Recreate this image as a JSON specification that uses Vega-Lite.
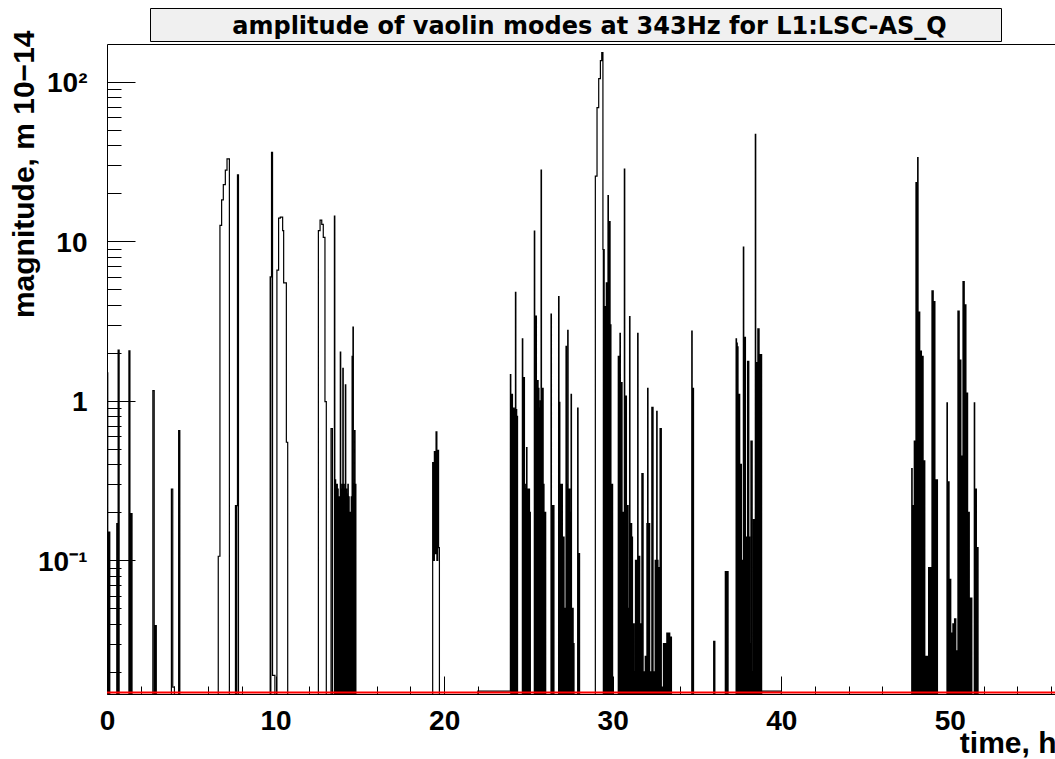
{
  "$schema": "https://vega.github.io/schema/vega-lite/v6.json",
  "autosize": {"type": "pad"},
  "padding": {"left": 8, "top": 7, "right": 0, "bottom": 0},
  "background": "white",
  "spacing": -12,
  "datasets": {
    "title": [{"label": "amplitude of vaolin modes at 343Hz for L1:LSC-AS_Q"}],
    "red": [{"t": 0, "v": 0.01483}, {"t": 56.3, "v": 0.01483}],
    "black": [
      {"t": 0, "v": 0.001},
      {"t": 0.02, "v": 1.5}, {"t": 0.045, "v": 0.001}, {"t": 0.06, "v": 0.15}, {"t": 0.085, "v": 0.001}, {"t": 0.1, "v": 0.15}, {"t": 0.125, "v": 0.001}, {"t": 0.14, "v": 0.15}, {"t": 0.165, "v": 0.001},
      {"t": 0.58, "v": 0.17}, {"t": 0.605, "v": 0.001}, {"t": 0.62, "v": 0.17}, {"t": 0.645, "v": 0.001}, {"t": 0.66, "v": 2.08}, {"t": 0.72, "v": 0.001},
      {"t": 1.3, "v": 2.06}, {"t": 1.36, "v": 0.001}, {"t": 1.38, "v": 0.196}, {"t": 1.405, "v": 0.001}, {"t": 1.42, "v": 0.196}, {"t": 1.445, "v": 0.001}, {"t": 1.46, "v": 0.196}, {"t": 1.485, "v": 0.001},
      {"t": 2.72, "v": 1.16}, {"t": 2.8, "v": 0.001}, {"t": 2.82, "v": 0.039}, {"t": 2.845, "v": 0.001}, {"t": 2.86, "v": 0.039}, {"t": 2.885, "v": 0.001}, {"t": 2.9, "v": 0.039}, {"t": 2.925, "v": 0.001},
      {"t": 3.82, "v": 0.28}, {"t": 3.9, "v": 0.016}, {"t": 4.0, "v": 0.001},
      {"t": 4.25, "v": 0.65}, {"t": 4.32, "v": 0.001},
      {"t": 6.6, "v": 0.106}, {"t": 6.7, "v": 12.6}, {"t": 6.8, "v": 18.2}, {"t": 6.9, "v": 22.7}, {"t": 7.02, "v": 28}, {"t": 7.12, "v": 32.9}, {"t": 7.26, "v": 0.001},
      {"t": 7.62, "v": 0.22}, {"t": 7.645, "v": 0.001}, {"t": 7.66, "v": 0.22}, {"t": 7.685, "v": 0.001}, {"t": 7.7, "v": 0.22}, {"t": 7.74, "v": 26.2}, {"t": 7.8, "v": 0.001},
      {"t": 9.68, "v": 6.0}, {"t": 9.705, "v": 0.001}, {"t": 9.72, "v": 6.0}, {"t": 9.76, "v": 36.2}, {"t": 9.82, "v": 0.019}, {"t": 9.96, "v": 0.001},
      {"t": 10.08, "v": 6.6}, {"t": 10.18, "v": 14.0}, {"t": 10.28, "v": 14.2}, {"t": 10.42, "v": 11.7}, {"t": 10.48, "v": 5.5}, {"t": 10.64, "v": 0.55}, {"t": 10.72, "v": 0.001},
      {"t": 12.54, "v": 11.7}, {"t": 12.64, "v": 13.6}, {"t": 12.74, "v": 12.8}, {"t": 12.83, "v": 10.6}, {"t": 12.93, "v": 0.99}, {"t": 13.01, "v": 0.001},
      {"t": 13.29, "v": 0.67}, {"t": 13.37, "v": 0.001},
      {"t": 13.49, "v": 14.4}, {"t": 13.515, "v": 0.001}, {"t": 13.54, "v": 0.32}, {"t": 13.565, "v": 0.001}, {"t": 13.59, "v": 0.3}, {"t": 13.615, "v": 0.001},
      {"t": 13.64, "v": 0.3}, {"t": 13.665, "v": 0.001}, {"t": 13.69, "v": 0.28}, {"t": 13.715, "v": 0.001}, {"t": 13.74, "v": 0.25}, {"t": 13.765, "v": 0.001},
      {"t": 13.79, "v": 0.25}, {"t": 13.815, "v": 0.001}, {"t": 13.84, "v": 2.02}, {"t": 13.865, "v": 0.001}, {"t": 13.89, "v": 0.28}, {"t": 13.915, "v": 0.001},
      {"t": 13.94, "v": 0.3}, {"t": 13.965, "v": 0.001}, {"t": 13.99, "v": 1.6}, {"t": 14.015, "v": 0.001}, {"t": 14.04, "v": 0.3}, {"t": 14.065, "v": 0.001},
      {"t": 14.09, "v": 0.28}, {"t": 14.115, "v": 0.001}, {"t": 14.14, "v": 1.26}, {"t": 14.165, "v": 0.001}, {"t": 14.19, "v": 0.28}, {"t": 14.215, "v": 0.001},
      {"t": 14.24, "v": 0.26}, {"t": 14.265, "v": 0.001}, {"t": 14.29, "v": 0.3}, {"t": 14.315, "v": 0.001}, {"t": 14.34, "v": 0.25}, {"t": 14.365, "v": 0.001},
      {"t": 14.39, "v": 0.2}, {"t": 14.415, "v": 0.001}, {"t": 14.44, "v": 0.2}, {"t": 14.465, "v": 0.001}, {"t": 14.49, "v": 0.25}, {"t": 14.515, "v": 0.001},
      {"t": 14.54, "v": 1.9}, {"t": 14.565, "v": 0.001}, {"t": 14.59, "v": 2.9}, {"t": 14.615, "v": 0.001}, {"t": 14.64, "v": 0.3}, {"t": 14.665, "v": 0.001},
      {"t": 14.69, "v": 0.65}, {"t": 14.715, "v": 0.001}, {"t": 14.74, "v": 0.3}, {"t": 14.765, "v": 0.001},
      {"t": 19.32, "v": 0.41}, {"t": 19.37, "v": 0.1}, {"t": 19.42, "v": 0.48}, {"t": 19.47, "v": 0.11}, {"t": 19.52, "v": 0.64}, {"t": 19.57, "v": 0.1}, {"t": 19.62, "v": 0.49}, {"t": 19.67, "v": 0.12}, {"t": 19.72, "v": 0.001},
      {"t": 22.0, "v": 0.0151},
      {"t": 23.93, "v": 1.46}, {"t": 23.955, "v": 0.001}, {"t": 23.98, "v": 1.1}, {"t": 24.005, "v": 0.001}, {"t": 24.03, "v": 1.1}, {"t": 24.055, "v": 0.001},
      {"t": 24.08, "v": 0.9}, {"t": 24.105, "v": 0.001}, {"t": 24.13, "v": 0.9}, {"t": 24.155, "v": 0.001}, {"t": 24.18, "v": 0.88}, {"t": 24.205, "v": 0.001},
      {"t": 24.23, "v": 4.8}, {"t": 24.255, "v": 0.001}, {"t": 24.28, "v": 0.88}, {"t": 24.305, "v": 0.001}, {"t": 24.33, "v": 0.8}, {"t": 24.355, "v": 0.001},
      {"t": 24.64, "v": 2.45}, {"t": 24.665, "v": 0.001}, {"t": 24.69, "v": 1.4}, {"t": 24.715, "v": 0.001}, {"t": 24.74, "v": 1.4}, {"t": 24.765, "v": 0.001},
      {"t": 24.79, "v": 0.3}, {"t": 24.815, "v": 0.001}, {"t": 24.84, "v": 0.28}, {"t": 24.865, "v": 0.001}, {"t": 24.89, "v": 0.51}, {"t": 24.915, "v": 0.001},
      {"t": 24.94, "v": 0.28}, {"t": 24.965, "v": 0.001}, {"t": 24.99, "v": 0.28}, {"t": 25.015, "v": 0.001}, {"t": 25.04, "v": 0.28}, {"t": 25.065, "v": 0.001},
      {"t": 25.09, "v": 0.2}, {"t": 25.115, "v": 0.001},
      {"t": 25.35, "v": 11.6}, {"t": 25.375, "v": 0.001}, {"t": 25.4, "v": 3.4}, {"t": 25.425, "v": 0.001}, {"t": 25.45, "v": 3.4}, {"t": 25.475, "v": 0.001},
      {"t": 25.5, "v": 1.34}, {"t": 25.525, "v": 0.001}, {"t": 25.55, "v": 1.34}, {"t": 25.575, "v": 0.001}, {"t": 25.6, "v": 1.2}, {"t": 25.625, "v": 0.001},
      {"t": 25.65, "v": 0.9}, {"t": 25.675, "v": 0.001}, {"t": 25.7, "v": 1.0}, {"t": 25.725, "v": 0.001}, {"t": 25.75, "v": 28}, {"t": 25.775, "v": 0.001},
      {"t": 25.8, "v": 1.2}, {"t": 25.825, "v": 0.001}, {"t": 25.85, "v": 1.2}, {"t": 25.875, "v": 0.001}, {"t": 25.9, "v": 0.3}, {"t": 25.925, "v": 0.001},
      {"t": 25.95, "v": 0.2}, {"t": 25.975, "v": 0.001}, {"t": 26.0, "v": 0.2}, {"t": 26.025, "v": 0.001},
      {"t": 26.34, "v": 3.5}, {"t": 26.365, "v": 0.001}, {"t": 26.39, "v": 0.22}, {"t": 26.415, "v": 0.001}, {"t": 26.44, "v": 0.22}, {"t": 26.465, "v": 0.001},
      {"t": 26.49, "v": 0.22}, {"t": 26.515, "v": 0.001},
      {"t": 26.79, "v": 4.5}, {"t": 26.815, "v": 0.001}, {"t": 26.84, "v": 0.98}, {"t": 26.865, "v": 0.001}, {"t": 26.89, "v": 0.3}, {"t": 26.915, "v": 0.001},
      {"t": 26.94, "v": 0.3}, {"t": 26.965, "v": 0.001}, {"t": 26.99, "v": 0.3}, {"t": 27.015, "v": 0.001}, {"t": 27.04, "v": 0.14}, {"t": 27.065, "v": 0.001},
      {"t": 27.09, "v": 0.14}, {"t": 27.115, "v": 0.001}, {"t": 27.14, "v": 0.05}, {"t": 27.165, "v": 0.001}, {"t": 27.19, "v": 0.05}, {"t": 27.215, "v": 0.001},
      {"t": 27.23, "v": 2.2}, {"t": 27.255, "v": 0.001}, {"t": 27.28, "v": 0.3}, {"t": 27.305, "v": 0.001}, {"t": 27.33, "v": 2.77}, {"t": 27.355, "v": 0.001},
      {"t": 27.38, "v": 0.28}, {"t": 27.405, "v": 0.001}, {"t": 27.43, "v": 0.28}, {"t": 27.455, "v": 0.001}, {"t": 27.48, "v": 0.2}, {"t": 27.505, "v": 0.001},
      {"t": 27.53, "v": 1.1}, {"t": 27.555, "v": 0.001}, {"t": 27.58, "v": 0.05}, {"t": 27.605, "v": 0.001}, {"t": 27.63, "v": 0.05}, {"t": 27.655, "v": 0.001},
      {"t": 27.68, "v": 0.03}, {"t": 27.705, "v": 0.001},
      {"t": 27.92, "v": 0.9}, {"t": 27.945, "v": 0.001}, {"t": 27.97, "v": 0.11}, {"t": 27.995, "v": 0.001}, {"t": 28.01, "v": 0.11}, {"t": 28.035, "v": 0.001},
      {"t": 28.97, "v": 25.7}, {"t": 29.07, "v": 69}, {"t": 29.17, "v": 105}, {"t": 29.27, "v": 136}, {"t": 29.35, "v": 153},
      {"t": 29.42, "v": 8.9}, {"t": 29.445, "v": 0.001}, {"t": 29.47, "v": 8.9}, {"t": 29.495, "v": 0.001}, {"t": 29.52, "v": 3.9}, {"t": 29.545, "v": 0.001},
      {"t": 29.57, "v": 3.9}, {"t": 29.595, "v": 0.001}, {"t": 29.62, "v": 5.5}, {"t": 29.645, "v": 0.001}, {"t": 29.67, "v": 5.5}, {"t": 29.695, "v": 0.001},
      {"t": 29.72, "v": 19.4}, {"t": 29.745, "v": 0.001}, {"t": 29.77, "v": 13.3}, {"t": 29.795, "v": 0.001}, {"t": 29.82, "v": 13.3}, {"t": 29.845, "v": 0.001},
      {"t": 29.87, "v": 3.0}, {"t": 29.895, "v": 0.001}, {"t": 29.92, "v": 0.3}, {"t": 29.945, "v": 0.001}, {"t": 29.97, "v": 0.3}, {"t": 29.995, "v": 0.001},
      {"t": 30.33, "v": 1.9}, {"t": 30.355, "v": 0.001}, {"t": 30.38, "v": 1.9}, {"t": 30.405, "v": 0.001}, {"t": 30.43, "v": 2.65}, {"t": 30.455, "v": 0.001},
      {"t": 30.48, "v": 1.3}, {"t": 30.505, "v": 0.001}, {"t": 30.53, "v": 1.3}, {"t": 30.555, "v": 0.001}, {"t": 30.58, "v": 0.2}, {"t": 30.605, "v": 0.001},
      {"t": 30.63, "v": 0.2}, {"t": 30.655, "v": 0.001}, {"t": 30.69, "v": 28.4}, {"t": 30.715, "v": 0.001}, {"t": 30.74, "v": 1.07}, {"t": 30.765, "v": 0.001},
      {"t": 30.79, "v": 1.07}, {"t": 30.815, "v": 0.001}, {"t": 30.84, "v": 0.22}, {"t": 30.865, "v": 0.001}, {"t": 30.89, "v": 0.22}, {"t": 30.915, "v": 0.001},
      {"t": 30.94, "v": 0.05}, {"t": 30.965, "v": 0.001}, {"t": 31.0, "v": 3.38}, {"t": 31.025, "v": 0.001}, {"t": 31.05, "v": 0.17}, {"t": 31.075, "v": 0.001},
      {"t": 31.1, "v": 0.17}, {"t": 31.125, "v": 0.001}, {"t": 31.15, "v": 0.14}, {"t": 31.175, "v": 0.001}, {"t": 31.2, "v": 0.04}, {"t": 31.225, "v": 0.001},
      {"t": 31.25, "v": 0.04}, {"t": 31.275, "v": 0.001}, {"t": 31.3, "v": 0.02}, {"t": 31.325, "v": 0.001}, {"t": 31.35, "v": 0.1}, {"t": 31.375, "v": 0.001},
      {"t": 31.4, "v": 0.1}, {"t": 31.425, "v": 0.001}, {"t": 31.48, "v": 2.65}, {"t": 31.505, "v": 0.001}, {"t": 31.53, "v": 0.106}, {"t": 31.555, "v": 0.001},
      {"t": 31.58, "v": 0.106}, {"t": 31.605, "v": 0.001}, {"t": 31.63, "v": 0.04}, {"t": 31.655, "v": 0.001}, {"t": 31.68, "v": 0.04}, {"t": 31.705, "v": 0.001},
      {"t": 31.73, "v": 0.35}, {"t": 31.755, "v": 0.001}, {"t": 31.78, "v": 0.35}, {"t": 31.805, "v": 0.001}, {"t": 31.83, "v": 0.02}, {"t": 31.855, "v": 0.001},
      {"t": 31.88, "v": 0.02}, {"t": 31.905, "v": 0.001}, {"t": 31.93, "v": 0.025}, {"t": 31.955, "v": 0.001}, {"t": 31.98, "v": 0.025}, {"t": 32.005, "v": 0.001},
      {"t": 32.03, "v": 0.17}, {"t": 32.055, "v": 0.001}, {"t": 32.07, "v": 1.2}, {"t": 32.095, "v": 0.001}, {"t": 32.12, "v": 0.17}, {"t": 32.145, "v": 0.001},
      {"t": 32.17, "v": 0.17}, {"t": 32.195, "v": 0.001}, {"t": 32.22, "v": 0.02}, {"t": 32.245, "v": 0.001}, {"t": 32.27, "v": 0.02}, {"t": 32.295, "v": 0.001},
      {"t": 32.32, "v": 0.91}, {"t": 32.345, "v": 0.001}, {"t": 32.37, "v": 0.91}, {"t": 32.395, "v": 0.001}, {"t": 32.42, "v": 0.02}, {"t": 32.445, "v": 0.001},
      {"t": 32.47, "v": 0.02}, {"t": 32.495, "v": 0.001}, {"t": 32.52, "v": 0.1}, {"t": 32.545, "v": 0.001}, {"t": 32.57, "v": 0.1}, {"t": 32.595, "v": 0.001},
      {"t": 32.61, "v": 0.86}, {"t": 32.635, "v": 0.001}, {"t": 32.66, "v": 0.1}, {"t": 32.685, "v": 0.001}, {"t": 32.71, "v": 0.09}, {"t": 32.735, "v": 0.001},
      {"t": 32.76, "v": 0.09}, {"t": 32.785, "v": 0.001}, {"t": 32.81, "v": 0.67}, {"t": 32.835, "v": 0.001}, {"t": 32.86, "v": 0.67}, {"t": 32.885, "v": 0.001},
      {"t": 32.91, "v": 0.016}, {"t": 32.935, "v": 0.001}, {"t": 32.96, "v": 0.016}, {"t": 32.985, "v": 0.001}, {"t": 33.01, "v": 0.03}, {"t": 33.035, "v": 0.001},
      {"t": 33.06, "v": 0.03}, {"t": 33.085, "v": 0.001}, {"t": 33.11, "v": 0.03}, {"t": 33.135, "v": 0.001}, {"t": 33.16, "v": 0.03}, {"t": 33.185, "v": 0.001},
      {"t": 33.21, "v": 0.035}, {"t": 33.235, "v": 0.001}, {"t": 33.26, "v": 0.035}, {"t": 33.285, "v": 0.001}, {"t": 33.31, "v": 0.035}, {"t": 33.335, "v": 0.001},
      {"t": 33.36, "v": 0.035}, {"t": 33.385, "v": 0.001}, {"t": 33.41, "v": 0.033}, {"t": 33.435, "v": 0.001}, {"t": 33.46, "v": 0.033}, {"t": 33.485, "v": 0.001},
      {"t": 34.69, "v": 2.74}, {"t": 34.715, "v": 0.001}, {"t": 34.73, "v": 1.2}, {"t": 34.755, "v": 0.001}, {"t": 34.77, "v": 1.2}, {"t": 34.795, "v": 0.001},
      {"t": 35.99, "v": 0.031}, {"t": 36.06, "v": 0.001},
      {"t": 36.68, "v": 0.085}, {"t": 36.705, "v": 0.001}, {"t": 36.73, "v": 0.085}, {"t": 36.755, "v": 0.001}, {"t": 36.78, "v": 0.085}, {"t": 36.805, "v": 0.001}, {"t": 36.82, "v": 0.085}, {"t": 36.845, "v": 0.001},
      {"t": 37.32, "v": 2.45}, {"t": 37.345, "v": 0.001}, {"t": 37.37, "v": 2.3}, {"t": 37.39, "v": 0.001}, {"t": 37.41, "v": 2.18}, {"t": 37.435, "v": 0.001},
      {"t": 37.46, "v": 1.1}, {"t": 37.485, "v": 0.001}, {"t": 37.51, "v": 1.1}, {"t": 37.535, "v": 0.001}, {"t": 37.56, "v": 0.4}, {"t": 37.585, "v": 0.001},
      {"t": 37.61, "v": 0.4}, {"t": 37.635, "v": 0.001}, {"t": 37.66, "v": 0.1}, {"t": 37.685, "v": 0.001}, {"t": 37.7, "v": 0.1}, {"t": 37.725, "v": 0.001},
      {"t": 37.75, "v": 9.2}, {"t": 37.775, "v": 0.001}, {"t": 37.8, "v": 2.5}, {"t": 37.825, "v": 0.001}, {"t": 37.85, "v": 2.5}, {"t": 37.875, "v": 0.001},
      {"t": 37.9, "v": 0.14}, {"t": 37.925, "v": 0.001}, {"t": 37.95, "v": 0.14}, {"t": 37.975, "v": 0.001}, {"t": 38.0, "v": 1.77}, {"t": 38.025, "v": 0.001},
      {"t": 38.05, "v": 1.77}, {"t": 38.075, "v": 0.001}, {"t": 38.1, "v": 0.14}, {"t": 38.125, "v": 0.001}, {"t": 38.15, "v": 0.03}, {"t": 38.175, "v": 0.001},
      {"t": 38.2, "v": 0.56}, {"t": 38.225, "v": 0.001}, {"t": 38.25, "v": 0.56}, {"t": 38.275, "v": 0.001}, {"t": 38.3, "v": 0.02}, {"t": 38.325, "v": 0.001},
      {"t": 38.35, "v": 0.18}, {"t": 38.375, "v": 0.001}, {"t": 38.4, "v": 0.18}, {"t": 38.425, "v": 0.001}, {"t": 38.46, "v": 47}, {"t": 38.485, "v": 0.001},
      {"t": 38.51, "v": 1.74}, {"t": 38.535, "v": 0.001}, {"t": 38.56, "v": 1.74}, {"t": 38.585, "v": 0.001}, {"t": 38.61, "v": 2.83}, {"t": 38.635, "v": 0.001},
      {"t": 38.66, "v": 2.83}, {"t": 38.685, "v": 0.001}, {"t": 38.71, "v": 1.95}, {"t": 38.735, "v": 0.001}, {"t": 38.76, "v": 1.95}, {"t": 38.785, "v": 0.001},
      {"t": 38.81, "v": 1.95}, {"t": 38.835, "v": 0.001},
      {"t": 38.84, "v": 0.0151}, {"t": 40.0, "v": 0.001},
      {"t": 47.74, "v": 0.376}, {"t": 47.765, "v": 0.001}, {"t": 47.79, "v": 0.22}, {"t": 47.815, "v": 0.001}, {"t": 47.84, "v": 0.22}, {"t": 47.865, "v": 0.001},
      {"t": 47.89, "v": 0.56}, {"t": 47.915, "v": 0.001}, {"t": 47.94, "v": 0.56}, {"t": 47.965, "v": 0.001}, {"t": 47.99, "v": 23.4}, {"t": 48.015, "v": 0.001},
      {"t": 48.04, "v": 23.4}, {"t": 48.065, "v": 0.001}, {"t": 48.09, "v": 33.6}, {"t": 48.115, "v": 0.001}, {"t": 48.14, "v": 3.6}, {"t": 48.165, "v": 0.001},
      {"t": 48.19, "v": 3.6}, {"t": 48.215, "v": 0.001}, {"t": 48.24, "v": 2.05}, {"t": 48.265, "v": 0.001}, {"t": 48.29, "v": 2.05}, {"t": 48.315, "v": 0.001},
      {"t": 48.34, "v": 1.9}, {"t": 48.365, "v": 0.001}, {"t": 48.39, "v": 1.9}, {"t": 48.415, "v": 0.001}, {"t": 48.44, "v": 0.42}, {"t": 48.465, "v": 0.001},
      {"t": 48.49, "v": 0.42}, {"t": 48.515, "v": 0.001}, {"t": 48.54, "v": 0.025}, {"t": 48.565, "v": 0.001}, {"t": 48.59, "v": 0.025}, {"t": 48.615, "v": 0.001},
      {"t": 48.64, "v": 0.025}, {"t": 48.665, "v": 0.001}, {"t": 48.69, "v": 0.025}, {"t": 48.715, "v": 0.001}, {"t": 48.74, "v": 0.09}, {"t": 48.765, "v": 0.001},
      {"t": 48.79, "v": 0.09}, {"t": 48.815, "v": 0.001}, {"t": 48.84, "v": 0.09}, {"t": 48.865, "v": 0.001}, {"t": 48.89, "v": 0.09}, {"t": 48.915, "v": 0.001},
      {"t": 48.94, "v": 4.9}, {"t": 48.965, "v": 0.001}, {"t": 48.99, "v": 4.9}, {"t": 49.015, "v": 0.001}, {"t": 49.04, "v": 4.2}, {"t": 49.065, "v": 0.001},
      {"t": 49.09, "v": 4.2}, {"t": 49.115, "v": 0.001}, {"t": 49.14, "v": 0.32}, {"t": 49.165, "v": 0.001}, {"t": 49.19, "v": 0.32}, {"t": 49.215, "v": 0.001},
      {"t": 49.24, "v": 0.32}, {"t": 49.265, "v": 0.001},
      {"t": 49.83, "v": 0.97}, {"t": 49.855, "v": 0.001}, {"t": 49.88, "v": 0.31}, {"t": 49.905, "v": 0.001}, {"t": 49.93, "v": 0.31}, {"t": 49.955, "v": 0.001},
      {"t": 49.98, "v": 0.076}, {"t": 50.005, "v": 0.001}, {"t": 50.03, "v": 0.076}, {"t": 50.055, "v": 0.001}, {"t": 50.08, "v": 0.035}, {"t": 50.105, "v": 0.001},
      {"t": 50.13, "v": 0.035}, {"t": 50.155, "v": 0.001}, {"t": 50.18, "v": 0.04}, {"t": 50.205, "v": 0.001}, {"t": 50.23, "v": 0.04}, {"t": 50.255, "v": 0.001},
      {"t": 50.28, "v": 0.043}, {"t": 50.305, "v": 0.001}, {"t": 50.33, "v": 0.043}, {"t": 50.355, "v": 0.001}, {"t": 50.38, "v": 0.027}, {"t": 50.405, "v": 0.001},
      {"t": 50.43, "v": 0.027}, {"t": 50.455, "v": 0.001}, {"t": 50.48, "v": 3.65}, {"t": 50.505, "v": 0.001}, {"t": 50.53, "v": 3.65}, {"t": 50.555, "v": 0.001},
      {"t": 50.58, "v": 1.8}, {"t": 50.605, "v": 0.001}, {"t": 50.63, "v": 1.8}, {"t": 50.655, "v": 0.001}, {"t": 50.68, "v": 0.45}, {"t": 50.705, "v": 0.001},
      {"t": 50.73, "v": 0.45}, {"t": 50.755, "v": 0.001}, {"t": 50.78, "v": 5.6}, {"t": 50.805, "v": 0.001}, {"t": 50.83, "v": 5.6}, {"t": 50.855, "v": 0.001},
      {"t": 50.88, "v": 4.0}, {"t": 50.905, "v": 0.001}, {"t": 50.93, "v": 4.0}, {"t": 50.955, "v": 0.001}, {"t": 50.98, "v": 1.12}, {"t": 51.005, "v": 0.001},
      {"t": 51.03, "v": 1.12}, {"t": 51.055, "v": 0.001}, {"t": 51.08, "v": 0.2}, {"t": 51.105, "v": 0.001}, {"t": 51.13, "v": 0.2}, {"t": 51.155, "v": 0.001},
      {"t": 51.18, "v": 0.058}, {"t": 51.205, "v": 0.001}, {"t": 51.23, "v": 0.058}, {"t": 51.255, "v": 0.001}, {"t": 51.28, "v": 0.058}, {"t": 51.305, "v": 0.001},
      {"t": 51.45, "v": 0.97}, {"t": 51.475, "v": 0.001}, {"t": 51.5, "v": 0.28}, {"t": 51.525, "v": 0.001}, {"t": 51.55, "v": 0.28}, {"t": 51.575, "v": 0.001},
      {"t": 51.6, "v": 0.12}, {"t": 51.625, "v": 0.001}, {"t": 51.65, "v": 0.12}, {"t": 51.675, "v": 0.001},
      {"t": 56.3, "v": 0.001}
    ]
  },
  "vconcat": [
    {
      "spacing": 0,
      "bounds": "flush",
      "hconcat": [
        {
          "width": 43,
          "height": 33,
          "data": {"values": [{"a": 1}]},
          "mark": {"type": "text", "text": ""},
          "view": {"stroke": null, "fill": null}
        },
        {
          "width": 851,
          "height": 33,
          "data": {"name": "title"},
          "mark": {"type": "text", "font": "DejaVu Sans", "fontWeight": "bold", "fontSize": 24, "baseline": "alphabetic", "align": "center", "dx": 14, "dy": 9, "color": "black"},
          "encoding": {"text": {"field": "label", "type": "nominal"}},
          "view": {"fill": "#f0f0f0", "stroke": "black", "strokeWidth": 1}
        }
      ]
    },
    {
      "width": 949,
      "height": 650,
      "view": {"stroke": null},
      "resolve": {"axis": {"x": "independent", "y": "independent"}},
      "layer": [
        {
          "data": {"name": "black"},
          "mark": {"type": "line", "interpolate": "step-after", "color": "black", "strokeWidth": 1.2, "clip": true},
          "encoding": {
            "x": {
              "field": "t", "type": "quantitative",
              "scale": {"domain": [0, 56.298], "nice": false, "zero": false},
              "axis": {
                "orient": "bottom",
                "values": [0, 2, 4, 6, 8, 10, 12, 14, 16, 18, 20, 22, 24, 26, 28, 30, 32, 34, 36, 38, 40, 42, 44, 46, 48, 50, 52, 54, 56],
                "grid": false,
                "domain": true, "domainColor": "black", "domainWidth": 1,
                "ticks": true, "tickColor": "black", "tickWidth": 1,
                "tickSize": {"condition": {"test": "datum.value % 10 === 0", "value": -18}, "value": -8},
                "labelExpr": "datum.value % 10 === 0 ? datum.label : ''",
                "labelFont": "Liberation Sans", "labelFontWeight": "bold", "labelFontSize": 28, "labelColor": "black",
                "labelPadding": 31, "labelBaseline": "top", "labelFlush": false, "labelOverlap": false, "labelBound": false,
                "title": "time, h", "titleFont": "Liberation Sans", "titleFontWeight": "bold", "titleFontSize": 30, "titleColor": "black",
                "titleX": 949, "titleY": 58, "titleAlign": "right", "titleBaseline": "alphabetic", "titleAnchor": "end"
              }
            },
            "y": {
              "field": "v", "type": "quantitative",
              "scale": {"type": "log", "domain": [0.0145, 173.1], "nice": false},
              "axis": {
                "orient": "left",
                "values": [0.02, 0.03, 0.04, 0.05, 0.06, 0.07, 0.08, 0.09, 0.1, 0.2, 0.3, 0.4, 0.5, 0.6, 0.7, 0.8, 0.9, 1, 2, 3, 4, 5, 6, 7, 8, 9, 10, 20, 30, 40, 50, 60, 70, 80, 90, 100],
                "grid": false,
                "domain": true, "domainColor": "black", "domainWidth": 1,
                "ticks": true, "tickColor": "black", "tickWidth": 1,
                "tickSize": {"condition": {"test": "datum.value === 0.1 || datum.value === 1 || datum.value === 10 || datum.value === 100", "value": -28}, "value": -14},
                "labelExpr": "datum.value === 100 ? '10²' : datum.value === 10 ? '10\u2009' : datum.value === 1 ? '1\u2009' : datum.value === 0.1 ? '10⁻¹' : ''",
                "labelFont": "Liberation Sans", "labelFontWeight": "bold", "labelFontSize": 28, "labelColor": "black",
                "labelPadding": 48, "labelBaseline": "middle", "labelAlign": "right", "labelOffset": 2,
                "labelFlush": false, "labelOverlap": false, "labelBound": false,
                "title": "magnitude, m 10−14", "titleFont": "Liberation Sans", "titleFontWeight": "bold", "titleFontSize": 30, "titleColor": "black",
                "titleX": -74, "titleY": -14, "titleAngle": -90, "titleAlign": "right", "titleBaseline": "alphabetic"
              }
            }
          }
        },
        {
          "data": {"name": "red"},
          "mark": {"type": "line", "color": "#ff0000", "strokeWidth": 2, "clip": true},
          "encoding": {
            "x": {
              "field": "t", "type": "quantitative",
              "axis": {"orient": "top", "domain": true, "domainColor": "black", "domainWidth": 1, "ticks": false, "labels": false, "grid": false, "title": null}
            },
            "y": {"field": "v", "type": "quantitative", "axis": null}
          }
        }
      ]
    }
  ]
}
